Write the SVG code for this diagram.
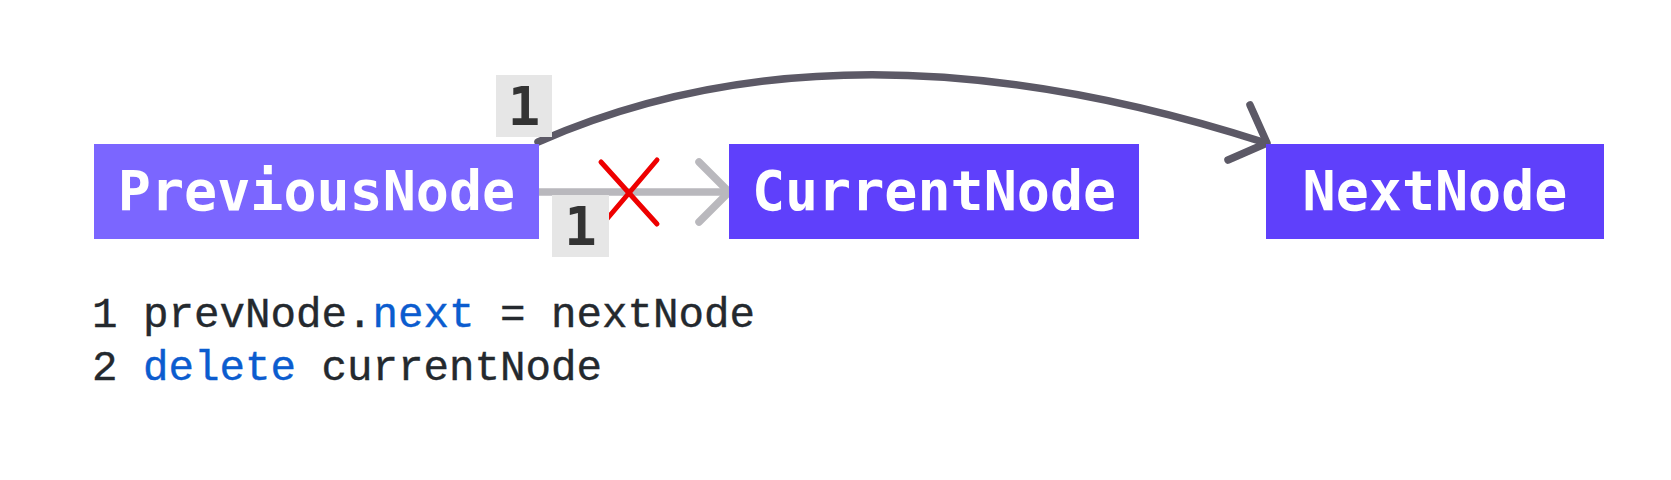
<svg xmlns="http://www.w3.org/2000/svg" width="1671" height="480" viewBox="0 0 1671 480">
<style>
.node-label{font-family:"DejaVu Sans Mono","Liberation Mono",monospace;font-weight:bold;font-size:55px;fill:#ffffff;text-anchor:middle}
.step{font-family:"DejaVu Sans Mono","Liberation Mono",monospace;font-weight:bold;font-size:54px;fill:#333333;text-anchor:middle}
.step-box{fill:#e6e6e6}
.code{font-family:"Liberation Mono","DejaVu Sans Mono",monospace;font-size:42.5px;fill:#24292e;stroke:#24292e;stroke-width:0.4}
.kw{fill:#0b5ccf;stroke:#0b5ccf}
.old{fill:none;stroke:#b9b8bd;stroke-width:7.5;stroke-linecap:round;stroke-linejoin:round}
.new{fill:none;stroke:#5c5966;stroke-width:7.5;stroke-linecap:round;stroke-linejoin:round}
.cross{fill:none;stroke:#ee0000;stroke-width:5;stroke-linecap:round}
</style>
<rect width="1671" height="480" fill="#ffffff"/>
<g id="connectors">
  <g id="old-link">
    <path class="old" d="M539,192 L728,192"/>
    <path class="old" d="M699,162 L729,192 L699,222"/>
  </g>
  <g id="cross">
    <path class="cross" d="M601,162 L657,224"/>
    <path class="cross" d="M657,160 L601,226"/>
  </g>
  <g id="new-link">
    <path class="new" d="M538,142 Q845,7 1266,143"/>
    <path class="new" d="M1250,105 L1267,143 L1228,160"/>
  </g>
</g>
<g id="node-previous">
  <rect x="94" y="144" width="445" height="95" fill="#7b66ff"/>
  <text class="node-label" x="316.5" y="210">PreviousNode</text>
</g>
<g id="node-current">
  <rect x="729" y="144" width="410" height="95" fill="#5f40fb"/>
  <text class="node-label" x="934" y="210">CurrentNode</text>
</g>
<g id="node-next">
  <rect x="1266" y="144" width="338" height="95" fill="#5f40fb"/>
  <text class="node-label" x="1435" y="210">NextNode</text>
</g>
<g id="step-top">
  <rect class="step-box" x="496" y="75" width="56" height="62"/>
  <text class="step" x="524" y="125">1</text>
</g>
<g id="step-bottom">
  <rect class="step-box" x="552" y="195" width="57" height="62"/>
  <text class="step" x="580.5" y="245">1</text>
</g>
<g id="code">
  <text class="code" x="92" y="327">1 prevNode.<tspan class="kw">next</tspan> = nextNode</text>
  <text class="code" x="92" y="380">2 <tspan class="kw">delete</tspan> currentNode</text>
</g>
</svg>
